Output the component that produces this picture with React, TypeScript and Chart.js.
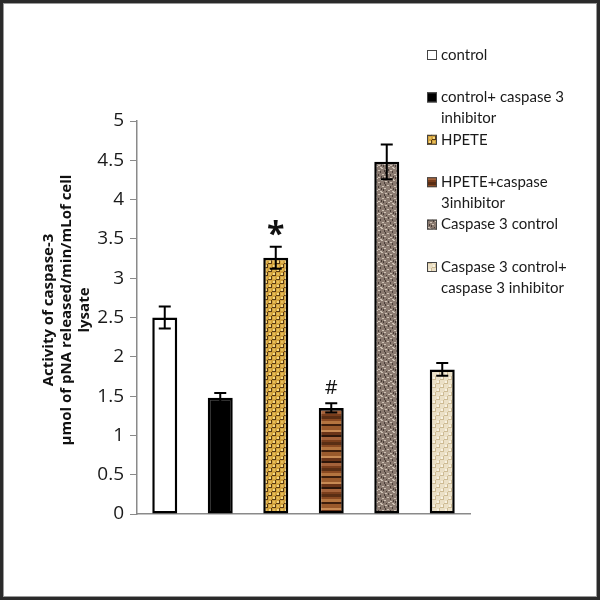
import React, { useEffect, useRef } from "react";
import { Chart, registerables } from "chart.js";

Chart.register(...registerables);

const categories = [
  "control",
  "control+ caspase 3 inhibitor",
  "HPETE",
  "HPETE+caspase 3inhibitor",
  "Caspase 3 control",
  "Caspase 3 control+ caspase 3 inhibitor",
];
const legendLines = [
  ["control"],
  ["control+ caspase 3", "inhibitor"],
  ["HPETE"],
  ["HPETE+caspase", "3inhibitor"],
  ["Caspase 3 control"],
  ["Caspase 3 control+", "caspase 3 inhibitor"],
];
const activity = [2.5, 1.48, 3.26, 1.35, 4.48, 1.84];
const errors = [0.14, 0.06, 0.14, 0.06, 0.22, 0.08];
const markers = ["", "", "*", "#", "", ""];
const yTitle = ["Activity of caspase-3", "µmol of pNA released/min/mLof cell", "lysate"];
const yMin = 0;
const yMax = 5;
const yStep = 0.5;

function makePattern(kind: string): CanvasPattern | string {
  const c = document.createElement("canvas");
  const g = c.getContext("2d")!;
  if (kind === "gold") {
    c.width = 8; c.height = 8;
    g.fillStyle = "#d2a23c"; g.fillRect(0, 0, 8, 8);
    g.fillStyle = "#f5da86"; g.fillRect(1, 1, 2, 2); g.fillRect(5, 5, 2, 2);
    g.fillStyle = "#e6bd5c"; g.fillRect(1, 5, 2, 2); g.fillRect(5, 1, 2, 2);
    g.fillStyle = "#5a3a12";
    g.fillRect(0, 3, 4, 1); g.fillRect(4, 7, 4, 1);
    g.fillRect(3, 0, 1, 4); g.fillRect(7, 4, 1, 4);
  } else if (kind === "brown") {
    c.width = 4; c.height = 26;
    const bands: [number, string][] = [
      [3, "#5a2e14"], [2, "#8a4a22"], [3, "#b4743f"], [2, "#3e1e0c"], [4, "#9a5a2c"],
      [2, "#c88a54"], [3, "#6a3418"], [2, "#2e160a"], [3, "#a4623a"], [2, "#7a3e1c"],
    ];
    let y = 0;
    for (const [h, col] of bands) { g.fillStyle = col; g.fillRect(0, y, 4, h); y += h; }
  } else if (kind === "speckle") {
    c.width = 12; c.height = 12;
    g.fillStyle = "#8a7a70"; g.fillRect(0, 0, 12, 12);
    g.fillStyle = "#cfc3b6";
    const light = [[1, 1], [6, 2], [9, 0], [3, 5], [10, 6], [0, 8], [6, 9], [8, 11], [4, 10]];
    for (const [x, y] of light) g.fillRect(x, y, 2, 1);
    g.fillStyle = "#4a3e38";
    const dark = [[4, 1], [8, 3], [1, 4], [6, 6], [11, 9], [2, 11], [9, 8], [0, 2]];
    for (const [x, y] of dark) g.fillRect(x, y, 1, 2);
  } else if (kind === "beige") {
    c.width = 8; c.height = 8;
    g.fillStyle = "#ebe0c6"; g.fillRect(0, 0, 8, 8);
    g.fillStyle = "#f8f2e3"; g.fillRect(1, 1, 2, 2); g.fillRect(5, 5, 2, 2);
    g.fillStyle = "#cdbb94";
    g.fillRect(0, 3, 4, 1); g.fillRect(4, 7, 4, 1);
    g.fillRect(3, 0, 1, 4); g.fillRect(7, 4, 1, 4);
  }
  const ctx = document.createElement("canvas").getContext("2d")!;
  return ctx.createPattern(c, "repeat") || "#999";
}

export default function App() {
  const ref = useRef<HTMLCanvasElement | null>(null);

  useEffect(() => {
    document.body.style.margin = "0";
    const canvas = ref.current!;
    const fills: (CanvasPattern | string)[] = [
      "#ffffff",
      "#000000",
      makePattern("gold"),
      makePattern("brown"),
      makePattern("speckle"),
      makePattern("beige"),
    ];

    const overlay = {
      id: "overlay",
      afterDatasetsDraw(chart: any) {
        const ctx = chart.ctx as CanvasRenderingContext2D;
        const ys = chart.scales.y;
        const meta = chart.getDatasetMeta(0);
        ctx.save();
        ctx.strokeStyle = "#000";
        ctx.lineWidth = 2;
        meta.data.forEach((el: any, i: number) => {
          const x = el.x;
          const top = ys.getPixelForValue(activity[i] + errors[i]);
          const bot = ys.getPixelForValue(activity[i] - errors[i]);
          ctx.beginPath();
          ctx.moveTo(x, top); ctx.lineTo(x, bot);
          ctx.moveTo(x - 6, top); ctx.lineTo(x + 6, top);
          ctx.moveTo(x - 6, bot); ctx.lineTo(x + 6, bot);
          ctx.stroke();
          const m = markers[i];
          if (m) {
            ctx.fillStyle = "#111";
            ctx.font = m === "*" ? "bold 32px 'Open Sans'" : "20px 'Open Sans'";
            ctx.textAlign = "center";
            ctx.textBaseline = "alphabetic";
            const mt = ctx.measureText(m);
            const cy = m === "*" ? top - 19 : top - 16;
            const base = cy + (mt.actualBoundingBoxAscent - mt.actualBoundingBoxDescent) / 2;
            ctx.fillText(m, x, base);
          }
        });
        ctx.restore();
      },
      afterDraw(chart: any) {
        const ctx = chart.ctx as CanvasRenderingContext2D;
        ctx.save();
        // y-axis title
        ctx.translate(67, 310);
        ctx.rotate(-Math.PI / 2);
        ctx.fillStyle = "#111";
        ctx.font = "bold 15px 'Open Sans'";
        ctx.textAlign = "center";
        ctx.textBaseline = "middle";
        yTitle.forEach((t, j) => ctx.fillText(t, 0, (j - 1) * 18));
        ctx.restore();

        // legend
        ctx.save();
        ctx.font = "15px Lato";
        ctx.textBaseline = "middle";
        ctx.textAlign = "left";
        legendLines.forEach((lines, i) => {
          const cy = 55 + i * 42.4;
          ctx.fillStyle = fills[i] as any;
          ctx.fillRect(427, cy - 5, 10, 10);
          ctx.strokeStyle = "#444";
          ctx.lineWidth = 1;
          ctx.strokeRect(427.5, cy - 4.5, 9, 9);
          ctx.fillStyle = "#1a1a1a";
          lines.forEach((t, j) => ctx.fillText(t, 441, cy + j * 21));
        });
        ctx.restore();

        // frame
        ctx.save();
        ctx.strokeStyle = "#2a2a2a";
        ctx.lineWidth = 3;
        ctx.strokeRect(1.5, 1.5, 597, 597);
        ctx.strokeStyle = "#9a9a9a";
        ctx.lineWidth = 1;
        ctx.strokeRect(3.5, 3.5, 593, 593);
        ctx.restore();
      },
    };

    const chart = new Chart(canvas, {
      type: "bar",
      data: {
        labels: categories,
        datasets: [
          {
            data: activity,
            backgroundColor: fills as any,
            borderColor: "#000",
            borderWidth: 2.5,
            borderSkipped: false,
            categoryPercentage: 1,
            barPercentage: 0.45,
          },
        ],
      },
      options: {
        animation: false,
        responsive: false,
        maintainAspectRatio: false,
        layout: { padding: { left: 0, right: 130, top: 121, bottom: 86 } },
        plugins: { legend: { display: false }, tooltip: { enabled: false } },
        scales: {
          x: {
            grid: { display: false, drawTicks: false },
            ticks: { display: false },
            border: { color: "#8a8a8a", width: 1.5 },
            afterFit: (s: any) => { s.height = 0; },
          },
          y: {
            min: yMin,
            max: yMax,
            ticks: {
              stepSize: yStep,
              color: "#1a1a1a",
              font: { family: "'Open Sans'", size: 19 },
              padding: 6,
              callback: (v: any) => String(Math.round(Number(v) * 10) / 10),
            },
            grid: { drawOnChartArea: false, drawTicks: true, tickLength: 7, color: "#8a8a8a" },
            border: { color: "#8a8a8a", width: 1.5 },
            afterFit: (s: any) => { s.width = 137; },
          },
        },
      },
      plugins: [overlay],
    });
    return () => chart.destroy();
  }, []);

  return (
    <div style={{ position: "absolute", left: 0, top: 0, width: 600, height: 600, background: "#fff" }}>
      <canvas ref={ref} width={600} height={600} style={{ display: "block" }} />
    </div>
  );
}
